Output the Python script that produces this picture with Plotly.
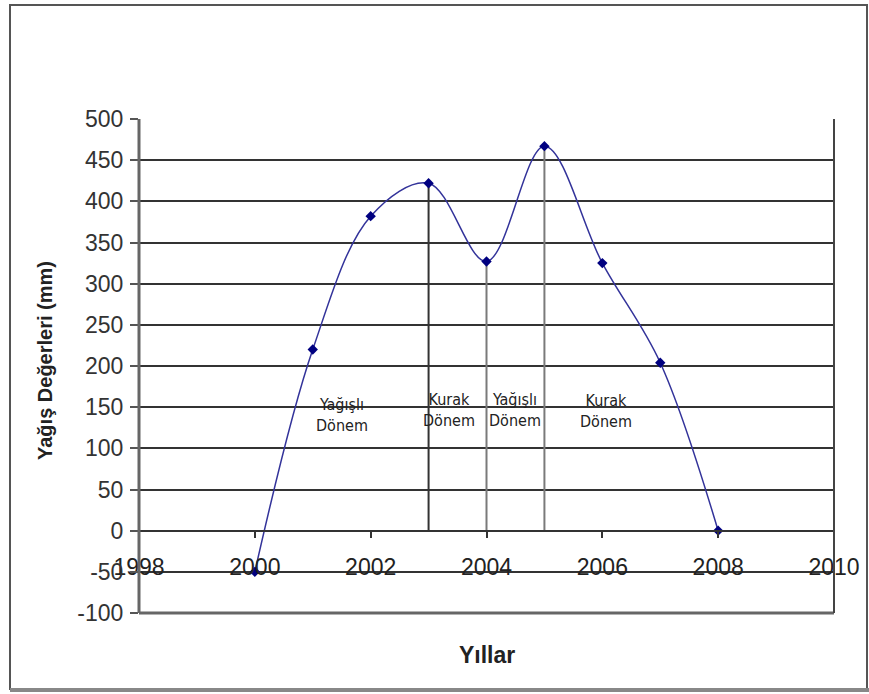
import plotly.graph_objects as go

# Yearly precipitation values (mm)
years = [2000, 2001, 2002, 2003, 2004, 2005, 2006, 2007, 2008]
rain_mm = [-50, 220, 382, 422, 327, 467, 325, 204, 0]

# Period boundaries drawn as drop lines from the zero line
boundary_years = [2003, 2004, 2005]
boundary_colors = ["#333333", "#7a7a7a", "#7a7a7a"]

# Period labels
period_labels = ["Yağışlı<br>Dönem", "Kurak<br>Dönem", "Yağışlı<br>Dönem", "Kurak<br>Dönem"]
period_x = [2001.51, 2003.36, 2004.49, 2006.06]
period_y = [141, 147, 146, 145]

y_ticks = list(range(-100, 501, 50))
y_ticktext = [str(v) for v in y_ticks]
x_ticks = list(range(1998, 2011, 2))
x_ticktext = [str(v) for v in x_ticks]

W, H = 869, 694
L, R, T, B = 139, 35, 119, 81
pw, ph = W - L - R, H - T - B


def px_x(p):
    return (p - L) / pw


def px_y(p):
    return (H - B - p) / ph


fig = go.Figure()

for yr, col in zip(boundary_years, boundary_colors):
    top = rain_mm[years.index(yr)]
    fig.add_trace(go.Scatter(
        x=[yr, yr], y=[0, top], mode="lines",
        line=dict(color=col, width=2), hoverinfo="skip", showlegend=False,
    ))

fig.add_trace(go.Scatter(
    x=years, y=rain_mm, mode="lines+markers",
    line=dict(color="#33339a", width=1.5, shape="spline", smoothing=1.0),
    marker=dict(symbol="diamond", size=8, color="#000080"),
    showlegend=False,
))

for txt, xv, yv in zip(period_labels, period_x, period_y):
    fig.add_annotation(
        x=xv, y=yv, text=txt, showarrow=False,
        font=dict(family="DejaVu Sans Condensed, DejaVu Sans", size=16, color="#222222"),
        align="center",
    )

# Axis titles
fig.add_annotation(
    xref="paper", yref="paper", x=px_x(45), y=px_y(361), xanchor="center", yanchor="middle",
    text="<b>Yağış Değerleri (mm)</b>", textangle=-90, showarrow=False,
    font=dict(family="Liberation Sans, Arial", size=20, color="#222222"),
)
fig.add_annotation(
    xref="paper", yref="paper", x=px_x(487), y=px_y(655), xanchor="center", yanchor="middle",
    text="<b>Yıllar</b>", showarrow=False,
    font=dict(family="Liberation Sans, Arial", size=23, color="#222222"),
)

# Outer chart frame
fig.add_shape(
    type="rect", xref="paper", yref="paper",
    x0=px_x(10), x1=px_x(867), y0=px_y(689), y1=px_y(5),
    line=dict(color="#555555", width=2), layer="below",
)
fig.add_shape(
    type="line", xref="paper", yref="paper",
    x0=px_x(10), x1=px_x(869), y0=px_y(690), y1=px_y(690),
    line=dict(color="#888888", width=4),
)
# Plot-area frame: left, bottom and right edges
fig.add_shape(type="line", xref="x domain", yref="y domain", x0=0, x1=0, y0=0, y1=1,
              line=dict(color="#666666", width=3))
fig.add_shape(type="line", xref="x domain", yref="y domain", x0=0, x1=1, y0=0, y1=0,
              line=dict(color="#666666", width=3))
fig.add_shape(type="line", xref="x domain", yref="y domain", x0=1, x1=1, y0=0, y1=1,
              line=dict(color="#444444", width=2))

fig.update_layout(
    width=W, height=H,
    margin=dict(l=L, r=R, t=T, b=B),
    paper_bgcolor="white", plot_bgcolor="white",
    font=dict(family="Liberation Sans, Arial", size=23, color="#333333"),
    xaxis=dict(
        range=[1998, 2010], tickvals=x_ticks, ticktext=x_ticktext,
        ticks="outside", ticklen=6, tickcolor="#333333", tickwidth=2,
        showgrid=False, zeroline=False, automargin=False,
        showline=True, linecolor="#333333", linewidth=2,
        anchor="free", position=100 / 600, ticklabelstandoff=10,
        tickfont=dict(size=23, color="#222222"),
    ),
    yaxis=dict(
        range=[-100, 500], tickvals=y_ticks, ticktext=y_ticktext,
        ticks="outside", ticklen=8, tickcolor="#555555", tickwidth=2,
        showgrid=True, gridcolor="#333333", gridwidth=2, automargin=False,
        zeroline=False, showline=False, ticklabelstandoff=2,
        tickfont=dict(size=23, color="#333333"),
    ),
)

fig.write_html("out.html")
